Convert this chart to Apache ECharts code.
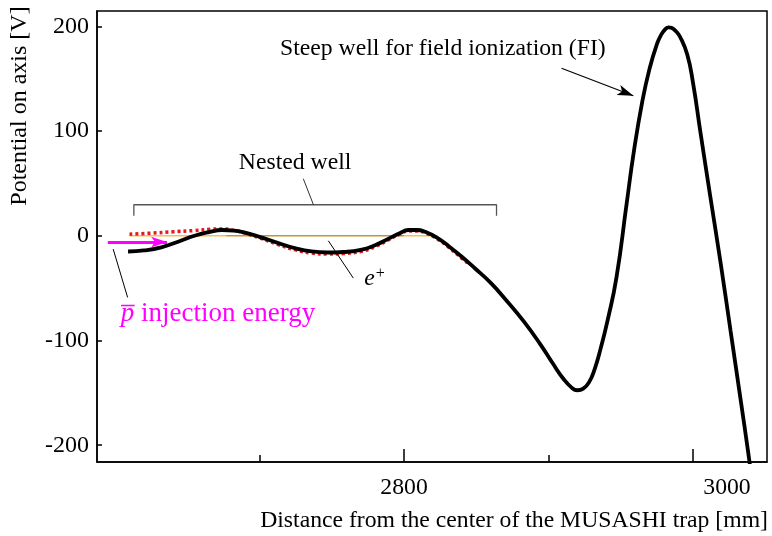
<!DOCTYPE html>
<html>
<head>
<meta charset="utf-8">
<script src="https://cdn.jsdelivr.net/npm/echarts@6/dist/echarts.min.js"></script>
<style>html,body{margin:0;padding:0;background:#fff}#c{width:772px;height:536px}</style>
</head>
<body>
<div id="c"></div>
<script>
// ---- data (mm, V) ----
const xBlack = [2609, 2620, 2632, 2645, 2655, 2665, 2674, 2682, 2690, 2700, 2713, 2725, 2736, 2747, 2758, 2770, 2780, 2789, 2797, 2803, 2809, 2815, 2823, 2831, 2840, 2849, 2860, 2871, 2883, 2894, 2903, 2910, 2916, 2920, 2924, 2928, 2932, 2936, 2941, 2947, 2954, 2959, 2965, 2970, 2975, 2978, 2981, 2983, 2985, 2988, 2991, 2996, 3000, 3005, 3012, 3019, 3026, 3033, 3038, 3042];
const yBlack = [-15, -14, -11, -5, 0, 3.5, 5.5, 5, 3, -1, -7, -12, -15, -16, -15.5, -13.5, -9, -3, 2.5, 5.5, 5.5, 3.5, -2, -10, -20, -31, -45, -62, -82, -103, -122, -136, -145, -147.5, -146, -140, -127, -108, -80, -40, 30, 80, 129, 160, 183, 192, 197.5, 199, 198.5, 195.5, 190, 173, 146, 100, 37, -25, -91, -157, -205, -245];
const xRed = [2610, 2625, 2640, 2655, 2666, 2674, 2682, 2690, 2700, 2713, 2725, 2736, 2747, 2758, 2770, 2780, 2789, 2797, 2803, 2809, 2815, 2823, 2831, 2840, 2844];
const yRed = [1.5, 2.5, 3.8, 5.0, 6.2, 6.5, 5.2, 2.5, -2, -8.5, -13.5, -16.5, -17.5, -17, -15, -10.5, -4, 1.5, 4.5, 4.5, 2.5, -3, -11, -21.5, -26];
const xOrange = [2610, 2823];
const yOrange = [0, 0];
const xInject = [2595, 2636];
const yInject = [-6, -6];
const yTicks = [-200, -100, 0, 100, 200];
const xMajorTicks = [2800, 3000];
const xMinorTicks = [2700, 2900];
const xLabels = [2800, 3000];
const bracketX = [2613, 2613, 2864, 2864];
const bracketY = [19, 29.6, 29.6, 19];

const zip = (a, b) => a.map((v, i) => [v, b[i]]);
const SERIF = 'Liberation Serif';
const FS = 23.7;
const X_MIN = 2587.5, X_MAX = 3051.2, Y_MIN = -216, Y_MAX = 214.6;

const chart = echarts.init(document.getElementById('c'), null, {renderer: 'canvas'});
const thin = (data, color, w) => ({
  type: 'line', data, symbol: 'none', silent: true, z: 5,
  lineStyle: {color, width: w}, animation: false
});
const textPt = (x, y, text, style) => ({
  type: 'scatter', symbolSize: 0, silent: true, animation: false, z: 6,
  itemStyle: {opacity: 1},
  data: [[x, y]],
  label: Object.assign({show: true, position: 'inside', formatter: text, fontFamily: SERIF, color: '#000', fontSize: FS, opacity: 1, textBorderWidth: 0}, style)
});

chart.setOption({
  animation: false,
  grid: {left: 97, top: 11, width: 670, height: 451, show: true, borderColor: '#000', borderWidth: 1.5, backgroundColor: 'transparent'},
  xAxis: [{
    type: 'value', min: X_MIN, max: X_MAX, position: 'bottom',
    axisLine: {show: true, onZero: false, lineStyle: {color: '#000', width: 1.5}},
    axisTick: {show: true, inside: true, length: 13, customValues: xMajorTicks, lineStyle: {color: '#000', width: 1.5}},
    axisLabel: {
      show: true, customValues: xLabels, margin: 14, fontFamily: SERIF, fontSize: FS, color: '#000',
      formatter: v => v === 3000 ? '{s|' + v + '}' : String(v),
      rich: {s: {fontFamily: SERIF, fontSize: FS, color: '#000', padding: [0, 0, 0, 68]}}
    },
    splitLine: {show: false}
  }, {
    type: 'value', min: X_MIN, max: X_MAX, position: 'bottom',
    axisLine: {show: false, onZero: false},
    axisTick: {show: true, inside: true, length: 7, customValues: xMinorTicks, lineStyle: {color: '#000', width: 1.5}},
    axisLabel: {show: false},
    splitLine: {show: false}
  }],
  yAxis: {
    type: 'value', min: Y_MIN, max: Y_MAX,
    axisLine: {show: true, onZero: false, lineStyle: {color: '#000', width: 1.5}},
    axisTick: {show: true, inside: true, length: 5, customValues: yTicks, lineStyle: {color: '#000', width: 1.5}},
    axisLabel: {show: true, customValues: yTicks, margin: 8, fontFamily: SERIF, fontSize: 24, color: '#000'},
    splitLine: {show: false}
  },
  graphic: [
    {type: 'text', x: 20, y: 106, rotation: Math.PI / 2,
     style: {text: 'Potential on axis [V]', font: '24px "Liberation Serif"', fill: '#000', align: 'center', verticalAlign: 'middle'}},
    {type: 'text', right: 4, top: 509,
     style: {text: 'Distance from the center of the MUSASHI trap [mm]', font: FS + 'px "Liberation Serif"', fill: '#000'}}
  ],
  series: [
    Object.assign(thin(zip(xOrange, yOrange), '#f4bf55', 1.6), {z: 2}),
    Object.assign(thin([[2677, 0], [2800, 0]], 'rgba(90,70,20,0.6)', 0.8), {z: 2}),
    {
      type: 'line', data: zip(xRed, yRed), symbol: 'none', smooth: true, silent: true, z: 3,
      lineStyle: {color: '#e8191a', width: 3.5, type: [3, 3], cap: 'butt'}
    },
    {
      type: 'line', data: zip(xBlack, yBlack), symbol: 'none', smooth: 0.5, silent: true, z: 4,
      lineStyle: {color: '#000', width: 3.8}
    },
    thin(zip(bracketX, bracketY), '#555', 1.3),
    thin([[2730.3, 54.4], [2737.3, 29.6]], '#333', 1),
    thin([[2598.7, -12.7], [2608.7, -58.9]], '#000', 1),
    thin([[2747.6, -4.8], [2764.9, -40.4]], '#000', 1),
    {
      type: 'line', data: [], silent: true, z: 6,
      markLine: {
        silent: true, animation: false, symbol: ['none', 'arrow'], label: {show: false},
        emphasis: {disabled: true},
        data: [
          [{coord: [2909, 160], symbolSize: [10, 16], lineStyle: {color: '#000', width: 1.2, type: 'solid'}},
           {coord: [2958.7, 133.7]}],
          [{coord: [xInject[0], yInject[0]], symbolSize: [14, 17], lineStyle: {color: '#ff00ff', width: 3, type: 'solid'}},
           {coord: [xInject[1], yInject[1]]}]
        ]
      }
    },
    textPt(2724.6, 69.7, 'Nested well', {align: 'center', verticalAlign: 'middle'}),
    textPt(2714.2, 178.5, 'Steep well for field ionization (FI)', {align: 'left', verticalAlign: 'middle'}),
    textPt(2772.5, -41, '{e|e}{s|+}', {align: 'left', verticalAlign: 'middle',
      rich: {e: {fontFamily: SERIF, fontStyle: 'italic', fontSize: FS, color: '#000'},
             s: {fontFamily: SERIF, fontSize: 16, color: '#000', padding: [0, 0, 10, 1]}}}),
    textPt(2604, -74.5, '{p|p\u0305} injection energy', {align: 'left', verticalAlign: 'middle', color: '#ff00ff', fontSize: 27,
      rich: {p: {fontFamily: SERIF, fontStyle: 'italic', fontSize: 27, color: '#ff00ff'}}})
  ]
});
</script>
</body>
</html>
